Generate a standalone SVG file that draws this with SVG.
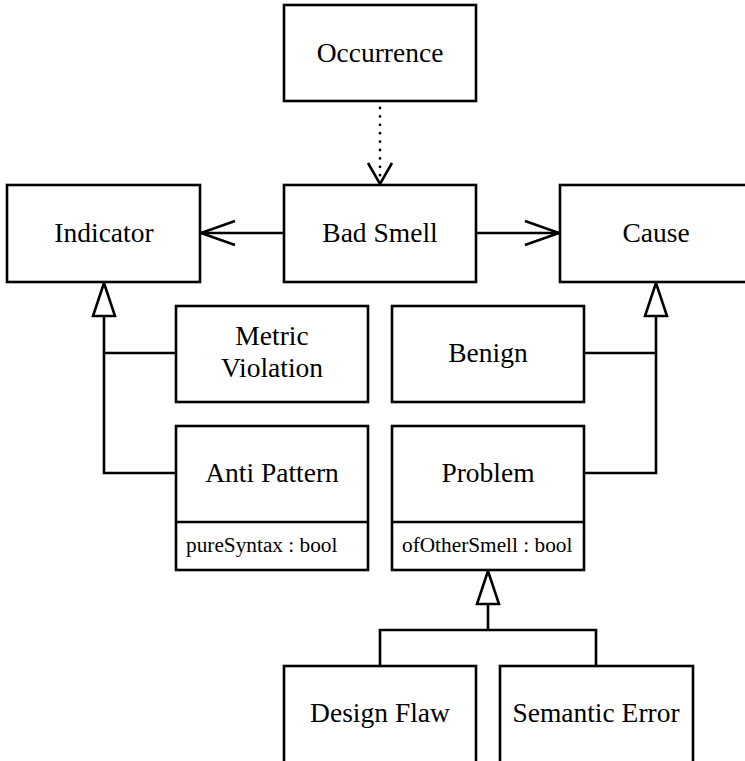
<svg xmlns="http://www.w3.org/2000/svg" width="745" height="761" viewBox="0 0 745 761">
  <style>
    .box { fill: #fff; stroke: #000; stroke-width: 2.6; }
    .sep { stroke: #000; stroke-width: 2.6; }
    .lbl { font-family: "Liberation Serif", "DejaVu Serif", serif; font-size: 27.5px; text-anchor: middle; fill: #000; }
    .attr { font-family: "Liberation Serif", "DejaVu Serif", serif; font-size: 21.3px; fill: #000; }
    .conn { fill: none; stroke: #000; stroke-width: 2.6; }
    .dot { fill: none; stroke: #000; stroke-width: 2.8; stroke-linecap: round; stroke-dasharray: 0 8.4; }
    .open { fill: none; stroke: #000; stroke-width: 2.6; }
    .tri { fill: #fff; stroke: #000; stroke-width: 2.6; stroke-linejoin: miter; }
  </style>
  <rect width="745" height="761" fill="#fff"/>

  <!-- connectors -->
  <g id="connectors">
    <!-- dependency: Occurrence -> Bad Smell -->
    <line class="dot" x1="380" y1="108" x2="380" y2="180"/>
    <polyline class="open" points="368,163 380,184 392,163"/>
    <!-- associations from Bad Smell -->
    <line class="conn" x1="284" y1="233" x2="201" y2="233"/>
    <polyline class="open" points="235,221 201,233 235,245"/>
    <line class="conn" x1="476" y1="233" x2="559" y2="233"/>
    <polyline class="open" points="525,221 559,233 525,245"/>
    <!-- generalisation to Indicator -->
    <polyline class="conn" points="176,353 104,353"/>
    <polyline class="conn" points="176,473 104,473 104,316"/>
    <polygon class="tri" points="104,283 93,316 115,316"/>
    <!-- generalisation to Cause -->
    <polyline class="conn" points="584,353 656,353"/>
    <polyline class="conn" points="584,473 656,473 656,316"/>
    <polygon class="tri" points="656,283 645,316 667,316"/>
    <!-- generalisation to Problem -->
    <polyline class="conn" points="380,666 380,630 596,630 596,666"/>
    <line class="conn" x1="488" y1="630" x2="488" y2="604"/>
    <polygon class="tri" points="488,571 477,604 499,604"/>
  </g>

  <g id="occurrence">
    <rect class="box" x="284" y="5" width="192" height="96"/>
    <text class="lbl" x="380" y="62">Occurrence</text>
  </g>

  <g id="indicator">
    <rect class="box" x="7" y="185" width="193" height="97"/>
    <text class="lbl" x="104" y="242">Indicator</text>
  </g>

  <g id="bad-smell">
    <rect class="box" x="284" y="185" width="192" height="97"/>
    <text class="lbl" x="380" y="242">Bad Smell</text>
  </g>

  <g id="cause">
    <rect class="box" x="560" y="185" width="193" height="97"/>
    <text class="lbl" x="656" y="242">Cause</text>
  </g>

  <g id="metric-violation">
    <rect class="box" x="176" y="306" width="192" height="96"/>
    <text class="lbl" x="272" y="345">Metric</text>
    <text class="lbl" x="272" y="377">Violation</text>
  </g>

  <g id="benign">
    <rect class="box" x="392" y="306" width="192" height="96"/>
    <text class="lbl" x="488" y="362">Benign</text>
  </g>

  <g id="anti-pattern">
    <rect class="box" x="176" y="426" width="192" height="144"/>
    <line class="sep" x1="176" y1="522" x2="368" y2="522"/>
    <text class="lbl" x="272" y="482">Anti Pattern</text>
    <text class="attr" x="186" y="552">pureSyntax : bool</text>
  </g>

  <g id="problem">
    <rect class="box" x="392" y="426" width="192" height="144"/>
    <line class="sep" x1="392" y1="522" x2="584" y2="522"/>
    <text class="lbl" x="488" y="482">Problem</text>
    <text class="attr" x="402" y="552">ofOtherSmell : bool</text>
  </g>

  <g id="design-flaw">
    <rect class="box" x="284" y="666" width="192" height="97"/>
    <text class="lbl" x="380" y="722">Design Flaw</text>
  </g>

  <g id="semantic-error">
    <rect class="box" x="500" y="666" width="193" height="97"/>
    <text class="lbl" x="596" y="722">Semantic Error</text>
  </g>
</svg>
